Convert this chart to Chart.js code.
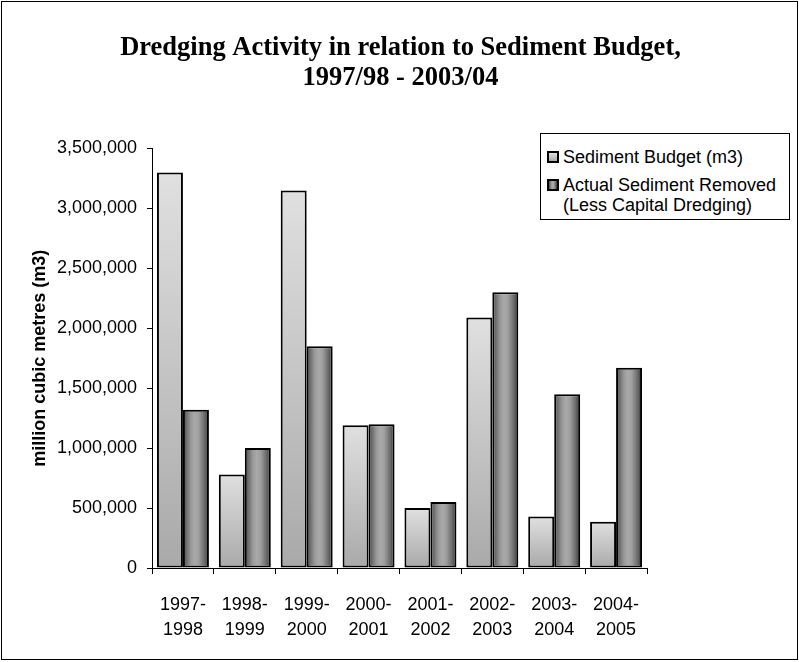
<!DOCTYPE html>
<html>
<head>
<meta charset="utf-8">
<script src="https://cdn.jsdelivr.net/npm/chart.js@4/dist/chart.umd.min.js"></script>
<style>
  html, body { margin: 0; padding: 0; background: #fff; }
  #wrap { position: relative; width: 799px; height: 662px; overflow: hidden; }
  #frame { position: absolute; left: 1px; top: 1px; width: 797px; height: 659px; box-sizing: border-box; border: 1px solid #000; pointer-events: none; }
  canvas { position: absolute; left: 0; top: 0; }
  #legend { position: absolute; left: 540px; top: 133px; width: 250px; height: 87px; box-sizing: border-box; border: 1px solid #000; background: #fff; font-family: 'Liberation Sans', Arial, sans-serif; font-size: 18px; color: #000; }
  .sw { position: absolute; left: 6px; width: 12px; height: 12px; box-sizing: border-box; border: 2px solid #000; }
  .lt { position: absolute; left: 22px; line-height: 22px; white-space: nowrap; }
</style>
</head>
<body>
<div id="wrap">
  <canvas id="c" width="799" height="662"></canvas>
  <div id="legend">
    <div class="sw" id="sw1" style="top:17px;"></div>
    <div class="lt" id="lt1" style="top:12px;"></div>
    <div class="sw" id="sw2" style="top:45px;"></div>
    <div class="lt" id="lt2" style="top:40px;"></div>
    <div class="lt" id="lt3" style="top:60px;"></div>
  </div>
  <div id="frame"></div>
</div>
<script>
// ---- data ----
const titleLines = ['Dredging Activity in relation to Sediment Budget,', '1997/98 - 2003/04'];
const categories = [
  ['1997-', '1998'], ['1998-', '1999'], ['1999-', '2000'], ['2000-', '2001'],
  ['2001-', '2002'], ['2002-', '2003'], ['2003-', '2004'], ['2004-', '2005']
];
const seriesNames = ['Sediment Budget (m3)', 'Actual Sediment Removed', '(Less Capital Dredging)'];
const sedimentBudget = [3300000, 780000, 3150000, 1190000, 500000, 2090000, 430000, 385000];
const sedimentRemoved = [1320000, 1000000, 1850000, 1200000, 550000, 2300000, 1450000, 1670000];
const yAxisTitle = 'million cubic metres (m3)';
const yMin = 0, yMax = 3500000, yStep = 500000;

// ---- legend text ----
document.getElementById('lt1').textContent = seriesNames[0];
document.getElementById('lt2').textContent = seriesNames[1];
document.getElementById('lt3').textContent = seriesNames[2];
document.getElementById('sw1').style.background = 'linear-gradient(to bottom, #e2e2e2, #aaaaaa)';
document.getElementById('sw2').style.background = 'linear-gradient(to right, #4d4d4d, #9a9a9a 30%, #aaaaaa 45%, #a0a0a0 60%, #6a6a6a 85%, #2e2e2e)';

const CAT_PCT = 0.84;

function barGeom(ctx) {
  const chart = ctx.chart;
  const xs = chart.scales.x, ys = chart.scales.y;
  if (!xs || !ys || ctx.type !== 'data') return null;
  const n = categories.length;
  const catW = (xs.right - xs.left) / n;
  const bw = catW * CAT_PCT / 2;
  const cx = xs.getPixelForValue(ctx.dataIndex);
  const left = ctx.datasetIndex === 0 ? cx - bw : cx;
  const top = ys.getPixelForValue(ctx.raw);
  const base = ys.getPixelForValue(0);
  return { left, right: left + bw, top, base };
}

function lightFill(ctx) {
  const g = barGeom(ctx);
  if (!g || !isFinite(g.top) || !isFinite(g.base) || g.base === g.top) return '#cccccc';
  const grad = ctx.chart.ctx.createLinearGradient(0, g.top, 0, g.base);
  grad.addColorStop(0, '#e0e0e0');
  grad.addColorStop(1, '#a9a9a9');
  return grad;
}

function darkFill(ctx) {
  const g = barGeom(ctx);
  if (!g || !isFinite(g.left) || !isFinite(g.right)) return '#888888';
  const grad = ctx.chart.ctx.createLinearGradient(g.left, 0, g.right, 0);
  grad.addColorStop(0, '#4a4a4a');
  grad.addColorStop(0.3, '#989898');
  grad.addColorStop(0.45, '#a9a9a9');
  grad.addColorStop(0.6, '#a0a0a0');
  grad.addColorStop(0.85, '#666666');
  grad.addColorStop(1, '#2c2c2c');
  return grad;
}

Chart.defaults.font.family = "'Liberation Sans', Arial, sans-serif";
Chart.defaults.font.size = 18;
Chart.defaults.color = '#000';

new Chart(document.getElementById('c'), {
  type: 'bar',
  data: {
    labels: categories,
    datasets: [
      { label: seriesNames[0], data: sedimentBudget, backgroundColor: lightFill },
      { label: seriesNames[1] + ' ' + seriesNames[2], data: sedimentRemoved, backgroundColor: darkFill }
    ]
  },
  options: {
    responsive: false,
    animation: false,
    layout: { padding: { left: 2, right: 0, top: 0, bottom: 0 } },
    datasets: {
      bar: {
        categoryPercentage: CAT_PCT,
        barPercentage: 1.0,
        borderColor: '#000',
        borderWidth: 2,
        borderSkipped: false
      }
    },
    plugins: {
      legend: { display: false },
      tooltip: { enabled: false },
      title: {
        display: true,
        text: titleLines,
        color: '#000',
        font: { family: "'Liberation Serif', 'Times New Roman', serif", size: 26.5, weight: 'bold', lineHeight: 1.14 },
        padding: { top: 33, bottom: 55 }
      }
    },
    scales: {
      x: {
        offset: true,
        grid: { display: true, offset: true, drawOnChartArea: false, drawTicks: true, tickLength: 6, color: '#000', lineWidth: 1 },
        border: { display: true, color: '#000', width: 1 },
        ticks: { color: '#000', padding: 18, maxRotation: 0, autoSkip: false, font: { size: 18, lineHeight: 1.42 } },
        afterFit: (s) => { s.height = 94; }
      },
      y: {
        min: yMin, max: yMax,
        grid: { display: true, drawOnChartArea: false, drawTicks: true, tickLength: 5, color: '#000', lineWidth: 1 },
        border: { display: true, color: '#000', width: 1 },
        ticks: {
          stepSize: yStep, padding: 10, color: '#000', font: { size: 18 },
          callback: (v) => Number(v).toLocaleString('en-US')
        },
        title: {
          display: true, text: yAxisTitle, color: '#000',
          font: { size: 18, weight: 'bold' },
          padding: { top: 27, bottom: 0 }
        },
        afterFit: (s) => { s.width = 150; }
      },
      yR: {
        position: 'right',
        display: true,
        min: 0, max: 1,
        grid: { display: false },
        border: { display: false },
        ticks: { display: false },
        afterFit: (s) => { s.width = 152; }
      }
    }
  }
});
</script>
</body>
</html>
